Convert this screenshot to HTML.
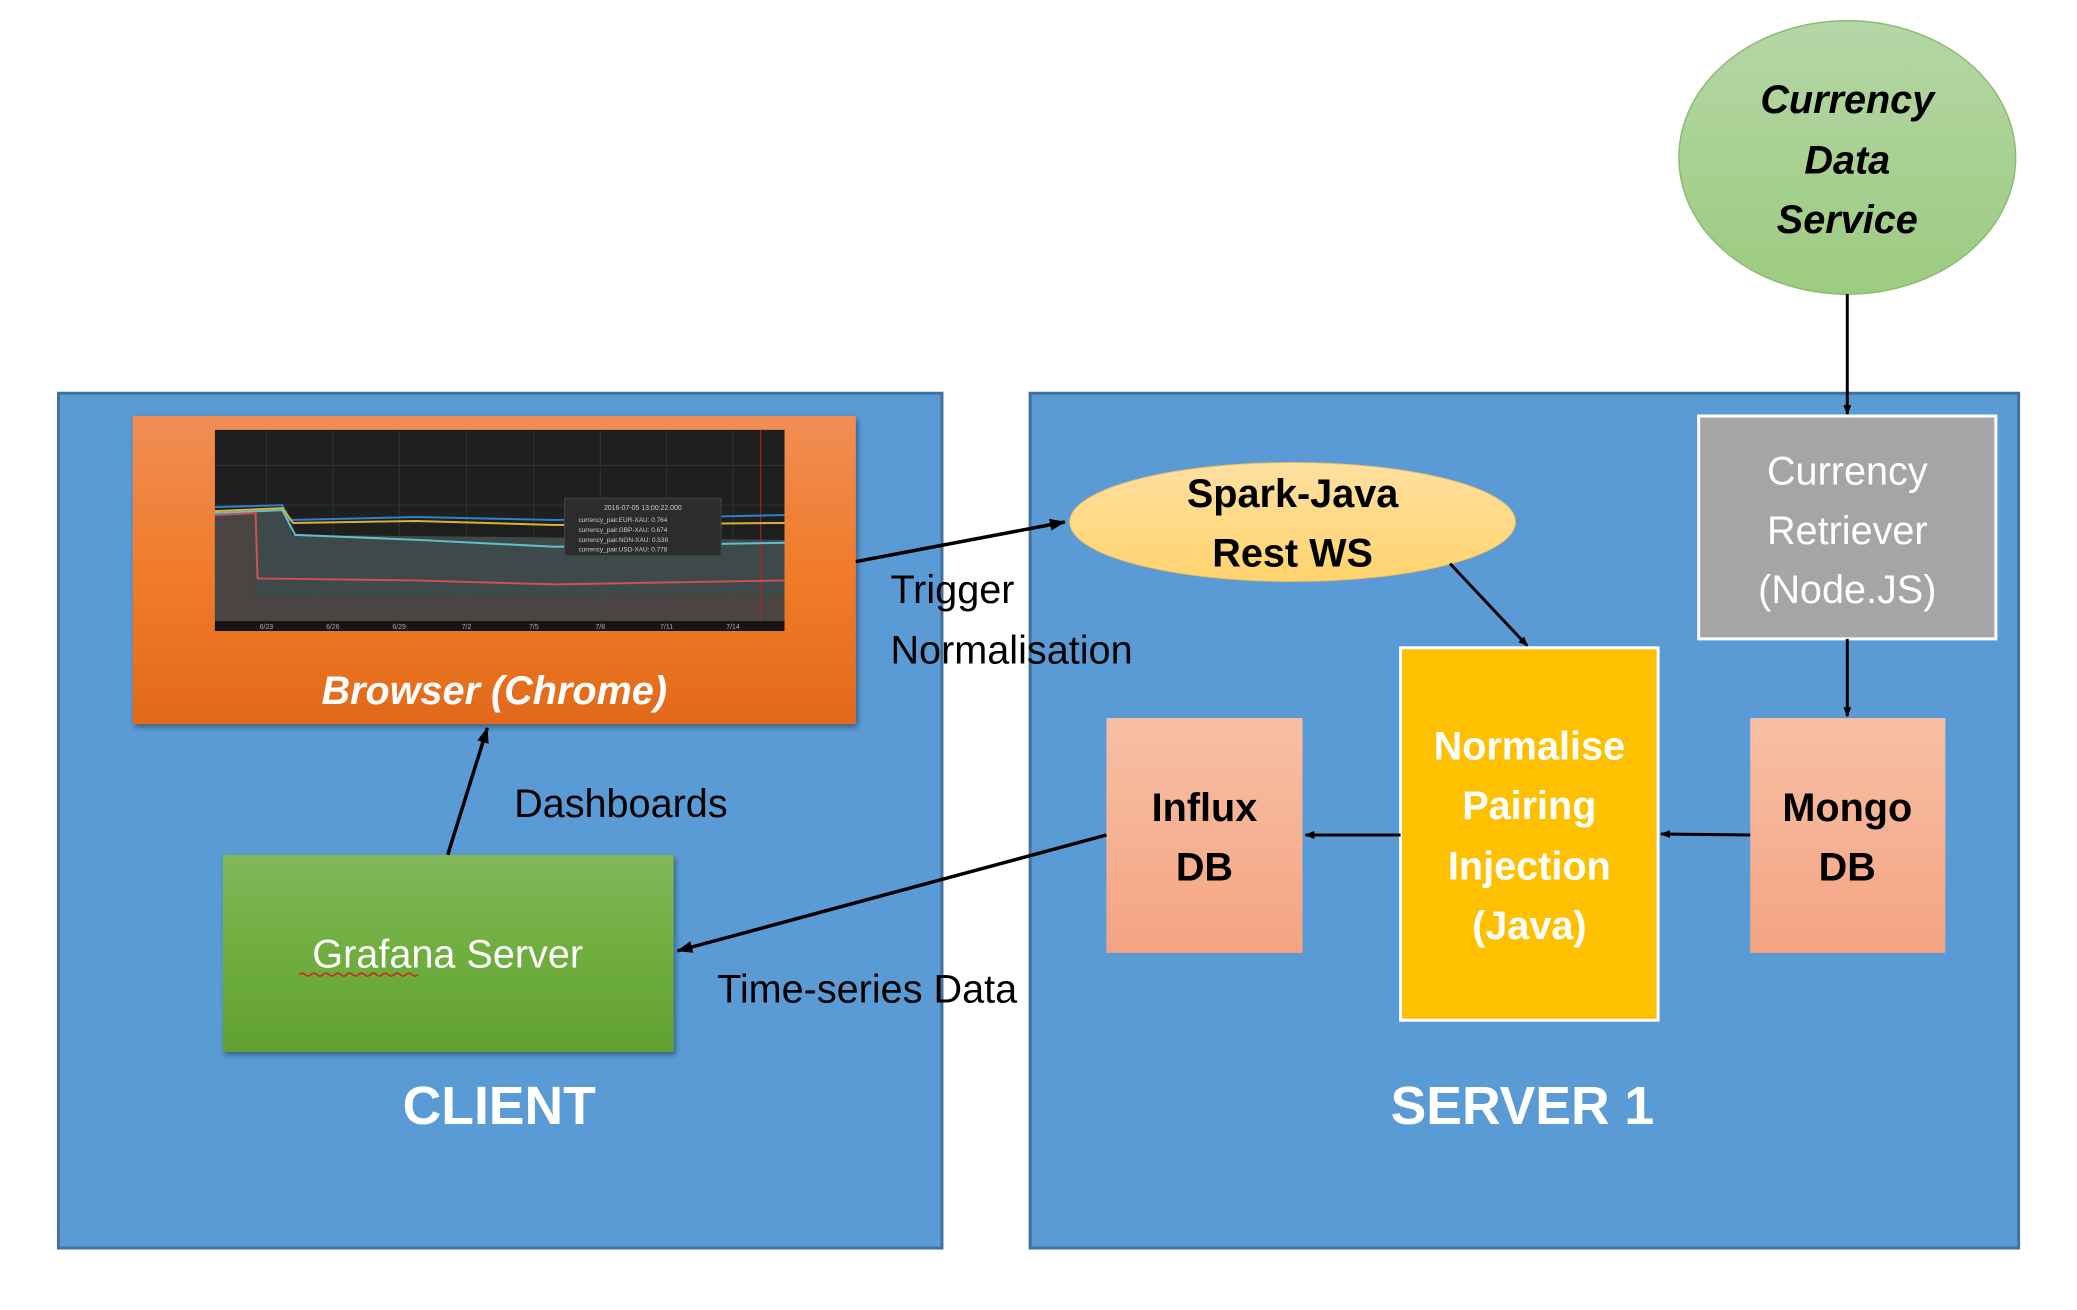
<!DOCTYPE html>
<html><head><meta charset="utf-8"><style>
html,body{margin:0;padding:0;background:#fff;}
svg{display:block;}
text{font-family:"Liberation Sans",sans-serif;}
</style></head><body>
<svg width="2077" height="1310" viewBox="0 0 2077 1310" xmlns="http://www.w3.org/2000/svg">
<defs>
<linearGradient id="og" x1="0" y1="0" x2="0" y2="1"><stop offset="0" stop-color="#F18D55"/><stop offset="0.5" stop-color="#F07C2A"/><stop offset="1" stop-color="#E2691A"/></linearGradient>
<linearGradient id="gg" x1="0" y1="0" x2="0" y2="1"><stop offset="0" stop-color="#80B85C"/><stop offset="0.5" stop-color="#6FAE3E"/><stop offset="1" stop-color="#62A034"/></linearGradient>
<linearGradient id="sg" x1="0" y1="0" x2="0" y2="1"><stop offset="0" stop-color="#F7BFA5"/><stop offset="1" stop-color="#F4A482"/></linearGradient>
<linearGradient id="cg" x1="0" y1="0" x2="0" y2="1"><stop offset="0" stop-color="#B5D6A6"/><stop offset="1" stop-color="#9CCB80"/></linearGradient>
<linearGradient id="yg" x1="0" y1="0" x2="0" y2="1"><stop offset="0" stop-color="#FFE0A0"/><stop offset="1" stop-color="#FFD36E"/></linearGradient>
<marker id="ah" markerWidth="10" markerHeight="8" refX="9" refY="4" orient="auto" markerUnits="userSpaceOnUse"><path d="M0,0 L10,4 L0,8 z" fill="#000"/></marker>
<marker id="ahb" markerWidth="16" markerHeight="12" refX="15" refY="6" orient="auto" markerUnits="userSpaceOnUse"><path d="M0,0 L16,6 L0,12 z" fill="#000"/></marker>
<filter id="sh" x="-5%" y="-5%" width="110%" height="115%"><feDropShadow dx="2" dy="3" stdDeviation="3" flood-opacity="0.4"/></filter>
</defs>
<g transform="scale(0.9905)">
<!-- containers -->
<rect x="59" y="397" width="892" height="863" fill="#5B9BD5" stroke="#41719C" stroke-width="3"/>
<rect x="1040" y="397" width="998" height="863" fill="#5B9BD5" stroke="#41719C" stroke-width="3"/>

<!-- browser -->
<rect x="134" y="420" width="730" height="311" fill="url(#og)" filter="url(#sh)"/>
<rect x="217" y="434" width="575" height="203" fill="#1f1f1f"/>
<g stroke="#333" stroke-width="1">
<line x1="269" y1="434" x2="269" y2="627"/><line x1="336" y1="434" x2="336" y2="627"/><line x1="403" y1="434" x2="403" y2="627"/><line x1="471" y1="434" x2="471" y2="627"/><line x1="539" y1="434" x2="539" y2="627"/><line x1="606" y1="434" x2="606" y2="627"/><line x1="673" y1="434" x2="673" y2="627"/><line x1="740" y1="434" x2="740" y2="627"/>
<line x1="217" y1="470" x2="792" y2="470"/><line x1="217" y1="510" x2="792" y2="510"/><line x1="217" y1="550" x2="792" y2="550"/><line x1="217" y1="590" x2="792" y2="590"/>
</g>
<path d="M217,520 L258,518 L258,602 L792,600 L792,627 L217,627 z" fill="#4a4542"/>
<path d="M217,520 L290,515 L295,540 L792,545 L792,600 L258,602 L258,518 z" fill="#3e4a4a"/>
<line x1="768" y1="434" x2="768" y2="627" stroke="#c02020" stroke-width="1"/>
<polyline points="217,512 285,510 292,525 420,522 560,525 792,520" fill="none" stroke="#2e7fd0" stroke-width="2"/>
<polyline points="217,516 285,513 296,528 420,526 560,530 792,528" fill="none" stroke="#e0b030" stroke-width="2"/>
<polyline points="217,518 285,515 298,540 420,545 560,552 792,548" fill="none" stroke="#60c0d0" stroke-width="2"/>
<polyline points="217,520 258,518 260,584 420,586 560,590 792,586" fill="none" stroke="#d05050" stroke-width="2"/>
<rect x="570" y="503" width="158" height="58" fill="#2c2c2c" stroke="#444"/>
<text x="649" y="515" font-size="7" fill="#ccc" text-anchor="middle">2016-07-05 13:00:22.000</text>
<g font-size="6.5" fill="#ccc"><text x="584" y="527">currency_pair.EUR-XAU:  0.764</text><text x="584" y="537">currency_pair.GBP-XAU:  0.674</text><text x="584" y="547">currency_pair.NGN-XAU:  0.538</text><text x="584" y="557">currency_pair.USD-XAU:  0.778</text></g>
<rect x="217" y="627" width="575" height="10" fill="#151515"/>
<g font-size="7" fill="#aaa" text-anchor="middle"><text x="269" y="635">6/23</text><text x="336" y="635">6/26</text><text x="403" y="635">6/29</text><text x="471" y="635">7/2</text><text x="539" y="635">7/5</text><text x="606" y="635">7/8</text><text x="673" y="635">7/11</text><text x="740" y="635">7/14</text></g>
<text x="499" y="711" font-size="40" font-weight="bold" font-style="italic" fill="#fff" text-anchor="middle">Browser (Chrome)</text>

<!-- grafana -->
<rect x="225" y="863" width="455" height="199" fill="url(#gg)" filter="url(#sh)"/>
<text x="452" y="977" font-size="40" fill="#fff" text-anchor="middle">Grafana Server</text>
<path d="M302,984 q3,-3 6,0 t6,0 t6,0 t6,0 t6,0 t6,0 t6,0 t6,0 t6,0 t6,0 t6,0 t6,0 t6,0 t6,0 t6,0 t6,0 t6,0 t6,0 t6,0 t6,0" fill="none" stroke="#d02020" stroke-width="1.5"/>
<text x="504" y="1135" font-size="54" font-weight="bold" fill="#fff" text-anchor="middle">CLIENT</text>
<text x="519" y="825" font-size="40" fill="#000">Dashboards</text>
<line x1="452" y1="863" x2="492" y2="735" stroke="#000" stroke-width="3.5" marker-end="url(#ahb)"/>

<!-- labels -->
<text x="899" y="609" font-size="40" fill="#000">Trigger</text>
<text x="899" y="670" font-size="40" fill="#000">Normalisation</text>
<text x="724" y="1012" font-size="40" fill="#000">Time-series Data</text>

<!-- spark -->
<ellipse cx="1305" cy="527" rx="225" ry="60" fill="url(#yg)" stroke="#F0C060" stroke-width="1"/>
<text x="1305" y="512" font-size="40" font-weight="bold" fill="#000" text-anchor="middle">Spark-Java</text>
<text x="1305" y="572" font-size="40" font-weight="bold" fill="#000" text-anchor="middle">Rest WS</text>
<line x1="864" y1="567" x2="1075" y2="527" stroke="#000" stroke-width="3.5" marker-end="url(#ahb)"/>
<line x1="1464" y1="569" x2="1542" y2="652" stroke="#000" stroke-width="3" marker-end="url(#ah)"/>

<!-- normalise -->
<rect x="1414" y="654" width="260" height="376" fill="#FFC000" stroke="#fff" stroke-width="3"/>
<g font-size="40" font-weight="bold" fill="#fff" text-anchor="middle">
<text x="1544" y="767">Normalise</text><text x="1544" y="827">Pairing</text><text x="1544" y="888">Injection</text><text x="1544" y="948">(Java)</text></g>

<!-- influx -->
<rect x="1117" y="725" width="198" height="237" fill="url(#sg)"/>
<g font-size="40" font-weight="bold" fill="#000" text-anchor="middle"><text x="1216" y="829">Influx</text><text x="1216" y="889">DB</text></g>
<!-- mongo -->
<rect x="1767" y="725" width="197" height="237" fill="url(#sg)"/>
<g font-size="40" font-weight="bold" fill="#000" text-anchor="middle"><text x="1865" y="829">Mongo</text><text x="1865" y="889">DB</text></g>

<line x1="1414" y1="843" x2="1318" y2="843" stroke="#000" stroke-width="3" marker-end="url(#ah)"/>
<line x1="1767" y1="843" x2="1677" y2="842" stroke="#000" stroke-width="3" marker-end="url(#ah)"/>
<line x1="1117" y1="843" x2="684" y2="960" stroke="#000" stroke-width="3.5" marker-end="url(#ahb)"/>

<!-- retriever -->
<rect x="1715" y="420" width="300" height="225" fill="#A5A5A5" stroke="#fff" stroke-width="3"/>
<g font-size="40" fill="#fff" text-anchor="middle"><text x="1865" y="489">Currency</text><text x="1865" y="549">Retriever</text><text x="1865" y="609">(Node.JS)</text></g>
<line x1="1865" y1="645" x2="1865" y2="723" stroke="#000" stroke-width="3" marker-end="url(#ah)"/>

<!-- currency data service -->
<ellipse cx="1865" cy="159" rx="170" ry="138" fill="url(#cg)" stroke="#8DBB70" stroke-width="1.5"/>
<g font-size="40" font-weight="bold" font-style="italic" fill="#000" text-anchor="middle"><text x="1865" y="114">Currency</text><text x="1865" y="175">Data</text><text x="1865" y="235">Service</text></g>
<line x1="1865" y1="297" x2="1865" y2="418" stroke="#000" stroke-width="3" marker-end="url(#ah)"/>

<text x="1537" y="1135" font-size="54" font-weight="bold" fill="#fff" text-anchor="middle">SERVER 1</text>
</g>
</svg>
</body></html>
